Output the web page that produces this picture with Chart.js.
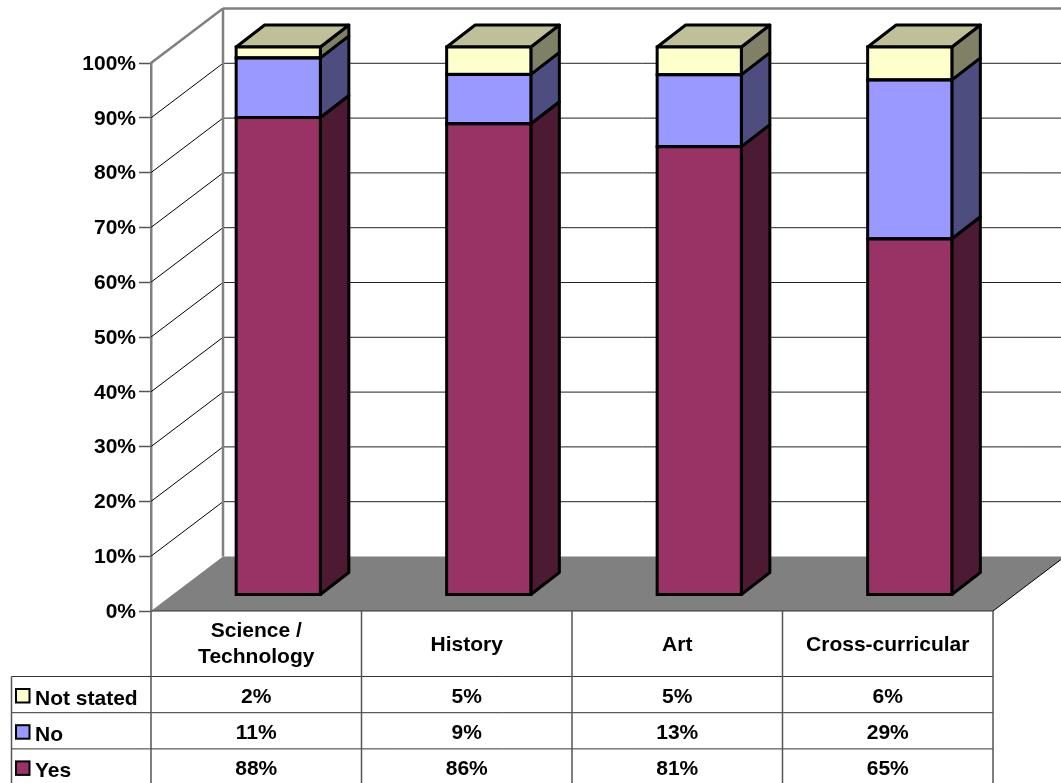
<!DOCTYPE html>
<html>
<head>
<meta charset="utf-8">
<title>Chart</title>
<style>
    html, body { margin: 0; padding: 0; background: #fff; overflow: hidden; }
    canvas { display: block; }
</style>
<script src="https://cdn.jsdelivr.net/npm/chart.js@4/dist/chart.umd.min.js"></script>
</head>
<body>
<canvas id="surveyChart" width="1061" height="783"></canvas>
<script>
const categories = [['Science /', 'Technology'], 'History', 'Art', 'Cross-curricular'];
const yesValues = [88, 86, 81, 65];
const noValues = [11, 9, 13, 29];
const notStatedValues = [2, 5, 5, 6];
const yTicks = [0, 10, 20, 30, 40, 50, 60, 70, 80, 90, 100];

const FONT = 'bold 21px "Liberation Sans", Arial, sans-serif';
const WALL = { dx: 72, dy: -54.5 };     // depth of the whole 3D box
const BAR_PLANE = { dx: 22, dy: -16 };  // where the front of the bars sits
const BAR_DEPTH = { dx: 28.5, dy: -22 };
const GREY = '#808080';

// the columns are 100% stacked, the table keeps the rounded numbers
const shareOf = (values, i) => {
    const total = yesValues[i] + noValues[i] + notStatedValues[i];
    return values[i] * 100 / total;
};
const shares = values => values.map((v, i) => shareOf(values, i));

const series = [
    { label: 'Yes', values: yesValues, front: '#993366', side: '#4d1a33', top: '#ad6685' },
    { label: 'No', values: noValues, front: '#9999ff', side: '#4d4d80', top: '#b3b3ff' },
    { label: 'Not stated', values: notStatedValues, front: '#ffffcc', side: '#808066', top: '#bfbf99' }
];

function line(ctx, x1, y1, x2, y2, color, width) {
    ctx.strokeStyle = color;
    ctx.lineWidth = width;
    ctx.beginPath();
    ctx.moveTo(x1, y1);
    ctx.lineTo(x2, y2);
    ctx.stroke();
}

function poly(ctx, points, fill) {
    ctx.beginPath();
    points.forEach((p, i) => i ? ctx.lineTo(p[0], p[1]) : ctx.moveTo(p[0], p[1]));
    ctx.closePath();
    ctx.fillStyle = fill;
    ctx.fill();
    ctx.stroke();
}

const box3d = {
    id: 'box3d',
    beforeDatasetsDraw(chart) {
        const { ctx, chartArea: area, scales: { y } } = chart;
        const backLeft = area.left + WALL.dx;
        const backRight = area.right + WALL.dx;
        ctx.save();

        // floor
        ctx.fillStyle = GREY;
        ctx.beginPath();
        ctx.moveTo(area.left, area.bottom);
        ctx.lineTo(backLeft, area.bottom + WALL.dy);
        ctx.lineTo(backRight, area.bottom + WALL.dy);
        ctx.lineTo(area.right, area.bottom);
        ctx.closePath();
        ctx.fill();
        line(ctx, area.right, area.bottom, backRight, area.bottom + WALL.dy, '#000', 1);

        // grid on the side wall and the back wall
        yTicks.forEach(v => {
            const py = y.getPixelForValue(v);
            if (v === 0) return;
            const top = v === 100;
            line(ctx, area.left, py, backLeft, py + WALL.dy, top ? GREY : '#000', top ? 2.5 : 1);
            line(ctx, backLeft, py + WALL.dy, backRight, py + WALL.dy, top ? GREY : '#222', top ? 2.5 : 1);
        });
        line(ctx, backLeft, area.top + WALL.dy, backLeft, area.bottom + WALL.dy, GREY, 2.5);

        // right side and top of the columns
        ctx.translate(BAR_PLANE.dx, BAR_PLANE.dy);
        ctx.strokeStyle = '#000';
        ctx.lineWidth = 3;
        ctx.lineJoin = 'round';
        chart.data.datasets.forEach((ds, d) => {
            chart.getDatasetMeta(d).data.forEach(bar => {
                const right = bar.x + bar.width / 2;
                const left = bar.x - bar.width / 2;
                poly(ctx, [
                    [right, bar.y],
                    [right + BAR_DEPTH.dx, bar.y + BAR_DEPTH.dy],
                    [right + BAR_DEPTH.dx, bar.base + BAR_DEPTH.dy],
                    [right, bar.base]
                ], series[d].side);
                if (d === series.length - 1) {
                    poly(ctx, [
                        [left, bar.y],
                        [left + BAR_DEPTH.dx, bar.y + BAR_DEPTH.dy],
                        [right + BAR_DEPTH.dx, bar.y + BAR_DEPTH.dy],
                        [right, bar.y]
                    ], series[d].top);
                }
            });
        });
        ctx.restore();

        // the bars themselves are moved back onto their plane
        ctx.save();
        ctx.translate(BAR_PLANE.dx, BAR_PLANE.dy);
    },
    afterDatasetsDraw(chart) {
        const { ctx } = chart;
        ctx.strokeStyle = '#000';
        ctx.lineWidth = 3;
        chart.data.datasets.forEach((ds, d) => {
            chart.getDatasetMeta(d).data.forEach(bar => {
                ctx.strokeRect(bar.x - bar.width / 2, bar.y, bar.width, bar.base - bar.y);
            });
        });
        ctx.restore();
    }
};

const dataTable = {
    id: 'dataTable',
    afterDraw(chart) {
        const { ctx, chartArea: area, scales: { x } } = chart;
        const colWidth = (area.right - area.left) / categories.length;
        const headerBottom = 676.5;
        const rowHeight = 36.2;
        const legendLeft = 11.5;
        const rows = series.slice().reverse();
        const bottom = chart.height + 2;
        const lineColor = '#333';

        ctx.save();
        ctx.font = FONT;
        ctx.fillStyle = '#000';
        ctx.textBaseline = 'alphabetic';

        // table lines
        line(ctx, area.left, area.bottom, area.right, area.bottom, lineColor, 1);
        rows.forEach((row, r) => {
            const py = headerBottom + r * rowHeight;
            line(ctx, legendLeft, py, area.right, py, lineColor, 1);
        });
        categories.forEach((c, i) => {
            const px = area.left + i * colWidth;
            line(ctx, px, area.bottom, px, bottom, '#555', 1.5);
        });
        line(ctx, area.right, area.bottom, area.right, bottom, '#555', 1.5);
        line(ctx, legendLeft, headerBottom, legendLeft, bottom, '#555', 1.5);

        // category headers
        ctx.textAlign = 'center';
        categories.forEach((c, i) => {
            const px = x.getPixelForValue(i);
            if (Array.isArray(c)) {
                c.forEach((part, n) => ctx.fillText(part, px, 637 + n * 26));
            } else {
                ctx.fillText(c, px, 651);
            }
        });

        // one row per series, top of the stack first
        rows.forEach((row, r) => {
            const py = headerBottom + r * rowHeight;
            ctx.textAlign = 'center';
            ctx.fillStyle = '#000';
            row.values.forEach((v, i) => ctx.fillText(v + '%', x.getPixelForValue(i), py + 26));

            ctx.textAlign = 'left';
            ctx.fillText(row.label, 35, py + 28);

            ctx.fillStyle = row.front;
            ctx.strokeStyle = '#000';
            ctx.lineWidth = 2;
            ctx.fillRect(16, py + 12.5, 13.5, 13.5);
            ctx.strokeRect(16, py + 12.5, 13.5, 13.5);
        });
        ctx.restore();
    }
};

new Chart(document.getElementById('surveyChart').getContext('2d'), {
    type: 'bar',
    data: {
        labels: categories,
        datasets: series.map(s => ({
            label: s.label,
            data: shares(s.values),
            backgroundColor: s.front,
            borderWidth: 0,
            categoryPercentage: 1,
            barPercentage: 0.4,
            clip: false
        }))
    },
    options: {
        responsive: false,
        animation: false,
        devicePixelRatio: 1,
        layout: { padding: { top: 63, right: 68, bottom: 172, left: 0 } },
        plugins: {
            legend: { display: false },
            title: { display: false },
            tooltip: { enabled: false }
        },
        scales: {
            x: { stacked: true, display: false },
            y: {
                stacked: true,
                min: 0,
                max: 100,
                afterFit(scale) { scale.width = 151; },
                afterBuildTicks(scale) { scale.ticks = yTicks.map(value => ({ value })); },
                ticks: {
                    color: '#000',
                    font: { family: '"Liberation Sans", Arial, sans-serif', size: 21, weight: 'bold' },
                    padding: 3,
                    labelOffset: 1,
                    callback: v => v + '%'
                },
                grid: {
                    drawOnChartArea: false,
                    tickLength: 12,
                    tickColor: '#555',
                    tickWidth: 1.5
                },
                border: { color: GREY, width: 2.5 }
            }
        }
    },
    plugins: [box3d, dataTable]
});
</script>
</body>
</html>
